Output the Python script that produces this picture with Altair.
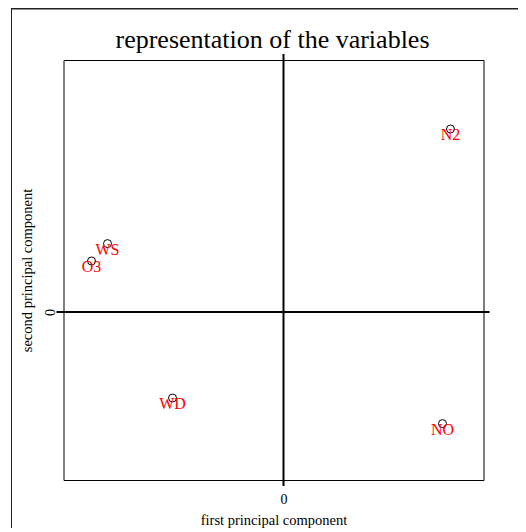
import altair as alt
import pandas as pd

# ---- data ----
labels = ["N2", "WS", "O3", "WD", "NO"]
pc1 = [0.835, -0.88, -0.96, -0.555, 0.795]
pc2 = [0.915, 0.342, 0.255, -0.43, -0.558]

x_domain = [-1.1, 1.0]
y_domain = [-0.84, 1.26]
hline_x = [-1.135, 1.03]   # horizontal zero line extent
vline_y = [-0.87, 1.29]    # vertical zero line extent
tick_values = [0]

title_text = "representation of the variables"
x_title = "first principal component"
y_title = "second principal component"

FONT = "Liberation Serif"

df = pd.DataFrame({"label": labels, "pc1": pc1, "pc2": pc2})
hline_df = pd.DataFrame({"x": [hline_x[0]], "x2": [hline_x[1]], "y": [0.0]})
vline_df = pd.DataFrame({"x": [0.0], "y": [vline_y[0]], "y2": [vline_y[1]]})
title_df = pd.DataFrame({"t": [title_text]})

xs = alt.Scale(domain=x_domain, nice=False, zero=False)
ys = alt.Scale(domain=y_domain, nice=False, zero=False)

x_axis = alt.Axis(
    values=tick_values, title=x_title, grid=False, domain=False, ticks=False,
    tickSize=0, labelPadding=12, labelFont=FONT, labelFontSize=14,
    labelColor="black", labelBaseline="top", labelAlign="center",
    titleFont=FONT, titleFontSize=14.5, titleFontWeight="normal",
    titleColor="black", titleX=210, titleY=44, titleAlign="center",
    titleBaseline="alphabetic",
)
y_axis = alt.Axis(
    values=tick_values, title=y_title, grid=False, domain=False, ticks=False,
    tickSize=0, labelPadding=9, labelFont=FONT, labelFontSize=14,
    labelColor="black", labelAngle=270, labelAlign="center",
    labelBaseline="alphabetic",
    titleFont=FONT, titleFontSize=14.5, titleFontWeight="normal",
    titleColor="black", titleAngle=270, titleX=-32, titleY=210,
    titleAlign="center", titleBaseline="alphabetic",
)

blank = alt.Data(values=[{}])

outer_v = alt.Chart(blank).mark_rule(color="#222", strokeWidth=1).encode(
    x=alt.value(-52), y=alt.value(-51.5), y2=alt.value(470)
)
outer_h = alt.Chart(blank).mark_rule(color="#222", strokeWidth=1.5).encode(
    y=alt.value(-51.25), x=alt.value(-52.5), x2=alt.value(460)
)

hline = alt.Chart(hline_df).mark_rule(color="black", strokeWidth=2).encode(
    x=alt.X("x:Q", scale=xs, axis=x_axis),
    x2="x2:Q",
    y=alt.Y("y:Q", scale=ys, axis=y_axis),
)
vline = alt.Chart(vline_df).mark_rule(color="black", strokeWidth=2).encode(
    x=alt.X("x:Q", scale=xs, axis=x_axis),
    y=alt.Y("y:Q", scale=ys, axis=y_axis),
    y2="y2:Q",
)

points = alt.Chart(df).mark_point(
    shape="circle", filled=False, color="black", size=64, strokeWidth=1, opacity=1
).encode(
    x=alt.X("pc1:Q", scale=xs, axis=x_axis),
    y=alt.Y("pc2:Q", scale=ys, axis=y_axis),
)

texts = alt.Chart(df).mark_text(
    color="#FF0000", fontSize=16, font=FONT, dy=6, baseline="middle", align="center"
).encode(
    x=alt.X("pc1:Q", scale=xs, axis=x_axis),
    y=alt.Y("pc2:Q", scale=ys, axis=y_axis),
    text="label:N",
)

title = alt.Chart(title_df).mark_text(
    fontSize=26, font=FONT, color="black", align="center", baseline="alphabetic"
).encode(x=alt.value(209), y=alt.value(-12), text="t:N")

chart = alt.layer(outer_v, outer_h, hline, vline, points, texts, title).properties(
    width=420,
    height=420,
    padding={"left": 55.5, "top": 52, "right": 34.5, "bottom": 48},
    autosize=alt.AutoSizeParams(type="none"),
    background="white",
).configure_view(stroke="black", strokeWidth=1)

chart.save("out.html", embed_options={"renderer": "svg", "actions": False})
